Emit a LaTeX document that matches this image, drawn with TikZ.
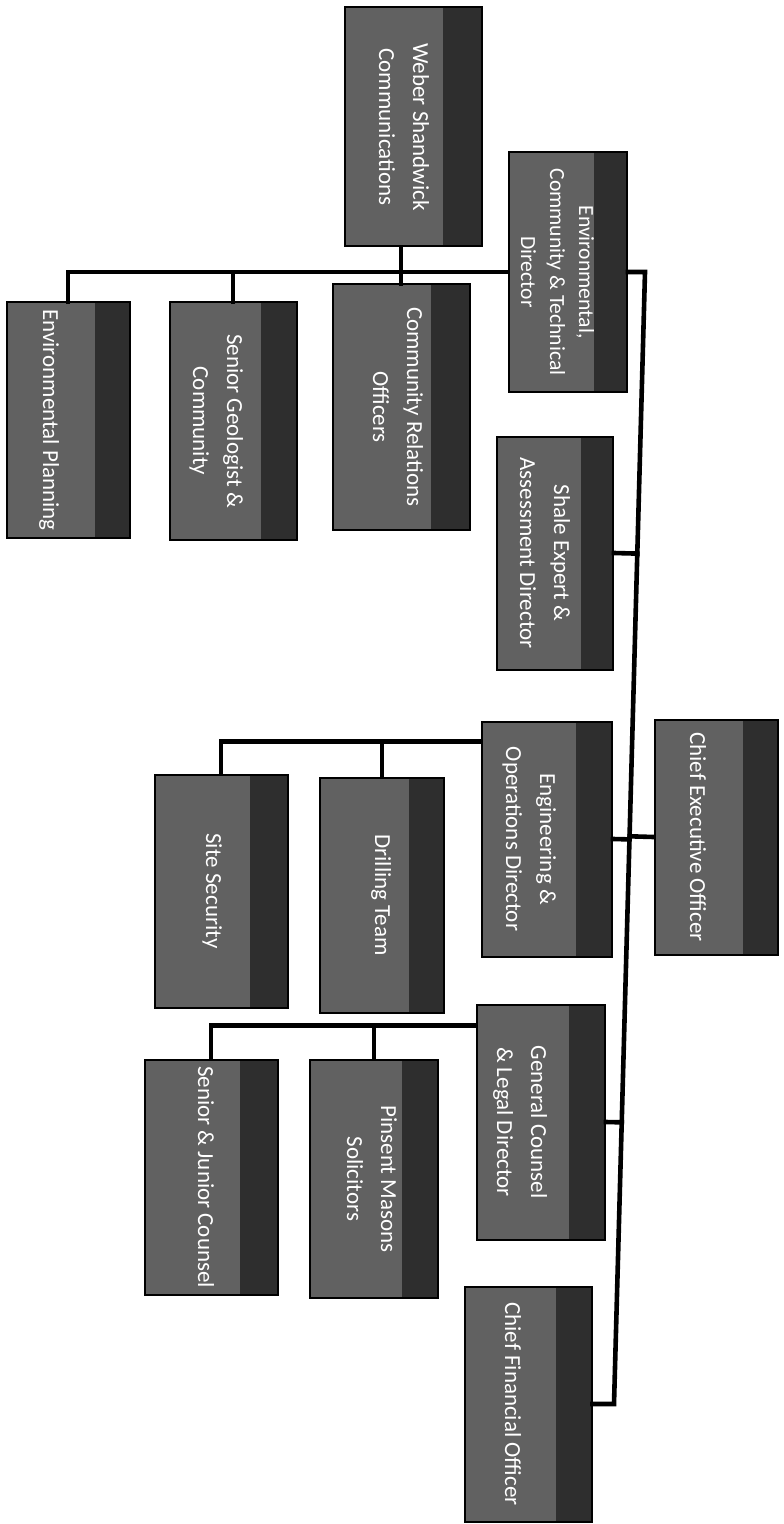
\documentclass[tikz,border=0pt]{standalone}
\usepackage{graphicx}
\usepackage{fontspec}
\setmainfont{Carlito}
\usetikzlibrary{calc}
% text set sideways, first line on the right
\newcommand{\vtext}[2][0pt]{\rotatebox{-90}{\raisebox{#1}[\height][\depth]{\begin{tabular}{@{}c@{}}#2\end{tabular}}}}
\begin{document}
\begin{tikzpicture}[x=0.5pt, y=-0.5pt]
% org chart turned on its side, units are pixels of the page
\providecommand{\orgLineColor}{black}
\providecommand{\orgBoxColor}{black!62}
\providecommand{\orgStripColor}{black!82}
\providecommand{\orgLineWidth}{2.3pt}
\tikzset{
  orgbox/.style={draw=black, line width=1pt, fill=\orgBoxColor, inner sep=0pt,
    text=white, font=\fontsize{11.5}{17}\selectfont,
    path picture={\fill[\orgStripColor] ($(path picture bounding box.north west)!0.72!(path picture bounding box.north east)$) rectangle (path picture bounding box.south east);}},
  orgline/.style={draw=\orgLineColor, line width=\orgLineWidth, line cap=rect}
}
\useasboundingbox (0,0) rectangle (783,1524);
\fill[white] (0,0) rectangle (783,1524);
% Boxes
\node[orgbox, minimum width=68.5pt, minimum height=119.5pt] (weber) at (413,127) {\vtext[-5pt]{Weber Shandwick\\Communications}};
\node[orgbox, minimum width=59pt, minimum height=119.5pt, font=\fontsize{10.8}{14.5}\selectfont] (envdir) at (568,272) {\vtext[-6pt]{Environmental,\\Community \& Technical\\Director}};
\node[orgbox, minimum width=61.5pt, minimum height=117.5pt] (envplan) at (68,420) {\vtext[-9pt]{Environmental Planning}};
\node[orgbox, minimum width=63.5pt, minimum height=118.5pt] (geologist) at (233,421) {\vtext[-8pt]{Senior Geologist \&\\Community}};
\node[orgbox, minimum width=68.5pt, minimum height=122.5pt] (commrel) at (401,407) {\vtext[-2pt]{Community Relations\\Officers}};
\node[orgbox, minimum width=58pt, minimum height=116.5pt] (shale) at (555,553) {\vtext[-5.5pt]{Shale Expert \&\\Assessment Director}};
\node[orgbox, minimum width=65pt, minimum height=117.5pt] (engops) at (547,839) {\vtext[-8.5pt]{Engineering \&\\Operations Director}};
\node[orgbox, minimum width=66.5pt, minimum height=116.5pt] (security) at (221,891) {\vtext[-4pt]{Site Security}};
\node[orgbox, minimum width=62pt, minimum height=117.5pt] (drilling) at (382,895) {\vtext{Drilling Team}};
\node[orgbox, minimum width=61.5pt, minimum height=117.5pt] (ceo) at (716,837) {\vtext[-9.5pt]{Chief Executive Officer}};
\node[orgbox, minimum width=64pt, minimum height=117.5pt] (counsel) at (541,1122) {\vtext[-10pt]{General Counsel\\\& Legal Director}};
\node[orgbox, minimum width=64pt, minimum height=119pt] (pinsent) at (374,1179) {\vtext[-1.5pt]{Pinsent Masons\\Solicitors}};
\node[orgbox, minimum width=66.5pt, minimum height=117.5pt] (seniorjr) at (211,1177) {\vtext[-3pt]{Senior \& Junior Counsel}};
\node[orgbox, minimum width=63.5pt, minimum height=117.5pt] (cfo) at (528,1404) {\vtext[-8pt]{Chief Financial Officer}};
% Environmental group
\draw[orgline] (envdir.west) -| (envplan.north);
\draw[orgline] (geologist.north) -- (geologist.north |- envdir.west);
\draw[orgline] (weber.south -| commrel.north) -- (commrel.north);
% Trunk, a little skewed as on the page
\coordinate (trunktop) at (645,272);
\coordinate (trunkbot) at (614,1404);
\draw[orgline] (envdir.east) -- (trunktop) -- (trunkbot) -- (cfo.east);
\foreach \n in {shale, engops, counsel}
  \draw[orgline] (\n.east) -- ($(trunktop)!(\n.east)!(trunkbot)$);
\draw[orgline] (ceo.west) -- ($(trunktop)!(ceo.west)!(trunkbot)$);
% Operations group
\coordinate (opsbus) at ($(engops.north west)+(0,21)$);
\draw[orgline] (opsbus) -| (security.north);
\draw[orgline] (drilling.north) -- (drilling.north |- opsbus);
% Legal group
\coordinate (legalbus) at ($(counsel.north west)+(0,22)$);
\draw[orgline] (legalbus) -| (seniorjr.north);
\draw[orgline] (pinsent.north) -- (pinsent.north |- legalbus);
\end{tikzpicture}
\end{document}
